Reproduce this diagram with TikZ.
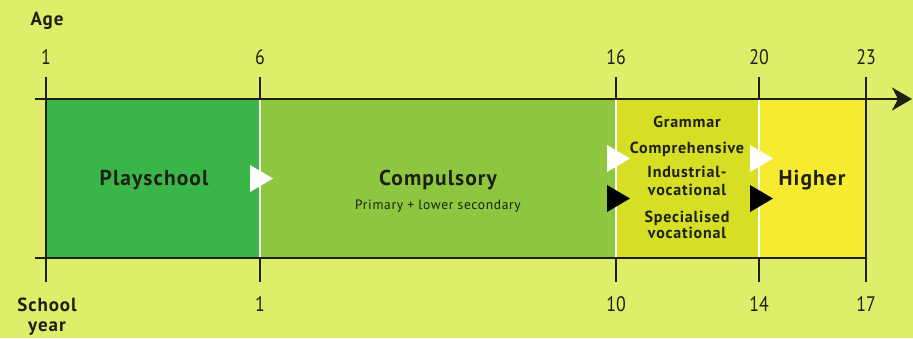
\documentclass[tikz,border=0pt]{standalone}
\usepackage{fontspec}
\setmainfont[LetterSpace=5]{PT Sans}
\newfontfamily\edcond[FakeStretch=0.85]{PT Sans}
\usetikzlibrary{arrows,arrows.meta,shapes,positioning}
\usepackage{xcolor}
\definecolor{edbg}{RGB}{222,238,106}
\definecolor{edgreen}{RGB}{58,181,74}
\definecolor{edlime}{RGB}{141,198,63}
\definecolor{edolive}{RGB}{214,223,35}
\definecolor{edyellow}{RGB}{247,235,50}
\definecolor{edink}{RGB}{30,32,20}
\tikzstyle{axis} = [line width=2.2pt,color=edink]
\tikzstyle{tickline} = [line width=2pt,color=edink]
\tikzstyle{divider} = [line width=1.6pt,color=white]
\tikzstyle{agenum} = [anchor=base,text=edink,font=\edcond\fontsize{21}{21}\selectfont]
\tikzstyle{stage} = [anchor=base,text=edink,font=\bfseries\fontsize{21.5}{21.5}\selectfont]
\tikzstyle{track} = [anchor=base,text=edink,font=\bfseries\fontsize{16}{16}\selectfont]
\newcommand{\edpointer}[3]{\fill[#1] (#2,#3) -- ++(23,13.5) -- ++(-23,13.5) -- cycle;}

\begin{document}
\begin{tikzpicture}[x=1pt,y=-1pt]
\fill[edbg] (0,0) rectangle (913,338);
\useasboundingbox (0,0) rectangle (913,338);

% Stages
\fill[edgreen] (46,99) rectangle (260,258);
\fill[edlime] (260,99) rectangle (616,258);
\fill[edolive] (616,99) rectangle (759,258);
\fill[edyellow] (759,99) rectangle (866,258);
\draw[divider] (260,99) -- (260,258);
\draw[divider] (616,99) -- (616,258);
\draw[divider] (759,99) -- (759,258);

% Axes
\coordinate (topstart) at (35,99);
\coordinate (topend) at (912,99);
\coordinate (botstart) at (35,258);
\coordinate (botend) at (867,258);
\draw[axis,-{Stealth[length=20pt,width=23pt,inset=6pt]}] (topstart) -- (topend);
\draw[axis] (botstart) -- (botend);
\draw[tickline] (46,77) -- (46,282);
\draw[tickline] (866,77) -- (866,282);
\foreach \x in {260,616,759} {
  \draw[tickline] (\x,77) -- (\x,99);
  \draw[tickline] (\x,258) -- (\x,282);
}

% Age
\node[anchor=base west,text=edink,font=\bfseries\fontsize{19}{19}\selectfont] (age) at (27,25) {Age};
\node[agenum] (age1) at (46,64) {1};
\node[agenum] (age6) at (260,64) {6};
\node[agenum] (age16) at (616,64) {16};
\node[agenum] (age20) at (759,64) {20};
\node[agenum] (age23) at (866,64) {23};

% School year
\node[anchor=base,text=edink,font=\bfseries\fontsize{19}{20}\selectfont,align=center] (year) at (47,331) {School\\year};
\node[agenum] (year1) at (260,311) {1};
\node[agenum] (year10) at (616,311) {10};
\node[agenum] (year14) at (759,311) {14};
\node[agenum] (year17) at (866,311) {17};

% Labels
\node[stage] (play) at (154,185) {Playschool};
\node[stage] (comp) at (438,185) {Compulsory};
\node[anchor=base,text=edink,font=\fontsize{13.5}{13.5}\selectfont] (compsub) at (438,209) {Primary + lower secondary};
\node[track] (gram) at (687,127) {Grammar};
\node[track] (compr) at (687,153) {Comprehensive};
\node[track] (indus) at (687,177) {Industrial-};
\node[track] (indusv) at (687,195) {vocational};
\node[track] (spec) at (687,222) {Specialised};
\node[track] (specv) at (687,238) {vocational};
\node[stage] (high) at (812,185) {Higher};

% Pointers
\edpointer{white}{250}{165}
\edpointer{white}{607}{145}
\edpointer{black}{607}{185}
\edpointer{white}{750}{145}
\edpointer{black}{750}{185}
\end{tikzpicture}
\end{document}
